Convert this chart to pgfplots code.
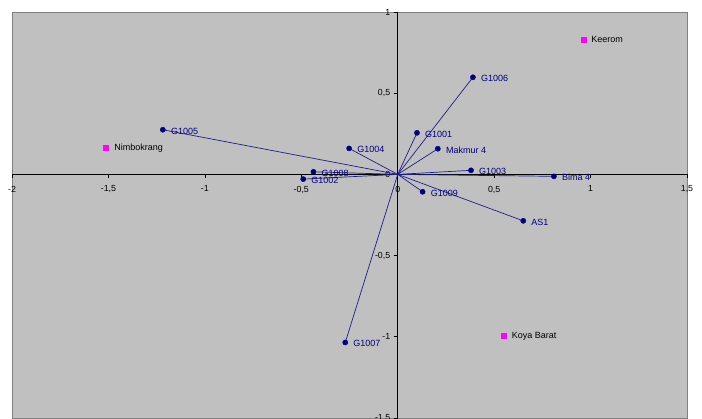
\documentclass[border=0pt]{standalone}
\usepackage{pgfplots}
\pgfplotsset{compat=1.18}
\usepackage{pgfplotstable}
\usepackage{fontspec}
\setmainfont{Liberation Sans}
\definecolor{navyc}{RGB}{0,0,128}
\definecolor{linec}{RGB}{30,30,140}
\definecolor{bggray}{RGB}{192,192,192}
\definecolor{bordergray}{RGB}{128,128,128}
\definecolor{pinkc}{RGB}{255,0,255}

\pgfplotstableread[col sep=comma]{
x,y,label
-1.218,0.275,G1005
-0.252,0.160,G1004
-0.437,0.016,G1008
-0.490,-0.029,G1002
0.390,0.598,G1006
0.100,0.256,G1001
0.208,0.158,Makmur 4
0.380,0.025,G1003
0.810,-0.012,Bima 4
0.651,-0.286,AS1
0.129,-0.107,G1009
-0.272,-1.035,G1007
}\pts

\pgfplotstableread[col sep=comma]{
x,y,label
0.962,0.832,Keerom
-1.512,0.166,Nimbokrang
0.549,-0.992,Koya Barat
}\sites

\begin{document}
\begin{tikzpicture}[x=1pt,y=1pt]
\useasboundingbox (0,0) rectangle (702,419);
\begin{axis}[
  at={(12pt,1pt)}, anchor=south west,
  scale only axis, width=675pt, height=406pt,
  xmin=-2, xmax=1.5, ymin=-1.5, ymax=1,
  axis lines=middle,
  axis line style={-, black, line width=0.7pt},
  axis background/.style={fill=bggray, draw=bordergray, line width=0.8pt},
  xtick={-2,-1.5,-1,-0.5,0,0.5,1,1.5},
  ytick={-1.5,-1,-0.5,0,0.5,1},
  hide obscured x ticks=false, hide obscured y ticks=false,
  tick align=outside, major tick length=4pt,
  tick style={black, line width=0.6pt},
  tick label style={font=\fontsize{8.8}{10}\selectfont, text=black},
  xticklabel style={yshift=-4pt},
  /pgf/number format/.cd, use comma, assume math mode=true,
  /pgfplots/.cd,
  clip=false,
]
\addplot[linec, line width=0.7pt] coordinates {(0,0) (-1.218,0.275)};
\addplot[linec, line width=0.7pt] coordinates {(0,0) (-0.252,0.160)};
\addplot[linec, line width=0.7pt] coordinates {(0,0) (-0.437,0.016)};
\addplot[linec, line width=0.7pt] coordinates {(0,0) (-0.490,-0.029)};
\addplot[linec, line width=0.7pt] coordinates {(0,0) (0.390,0.598)};
\addplot[linec, line width=0.7pt] coordinates {(0,0) (0.100,0.256)};
\addplot[linec, line width=0.7pt] coordinates {(0,0) (0.208,0.158)};
\addplot[linec, line width=0.7pt] coordinates {(0,0) (0.380,0.025)};
\addplot[linec, line width=0.7pt] coordinates {(0,0) (0.810,-0.012)};
\addplot[linec, line width=0.7pt] coordinates {(0,0) (0.651,-0.286)};
\addplot[linec, line width=0.7pt] coordinates {(0,0) (0.129,-0.107)};
\addplot[linec, line width=0.7pt] coordinates {(0,0) (-0.272,-1.035)};
\addplot[only marks, mark=*, mark size=2.6pt, navyc,
  nodes near coords, point meta=explicit symbolic,
  nodes near coords style={anchor=west, inner sep=0pt, xshift=8pt, yshift=-1.3pt,
    font=\fontsize{9}{10}\selectfont, text=navyc}]
  table[x=x, y=y, meta=label] {\pts};
\addplot[only marks, mark=square*, mark size=2.5pt, pinkc,
  nodes near coords, point meta=explicit symbolic,
  nodes near coords style={anchor=west, inner sep=0pt, xshift=8pt, yshift=-0.5pt,
    font=\fontsize{9}{10}\selectfont, text=black}]
  table[x=x, y=y, meta=label] {\sites};
\end{axis}
\end{tikzpicture}
\end{document}
